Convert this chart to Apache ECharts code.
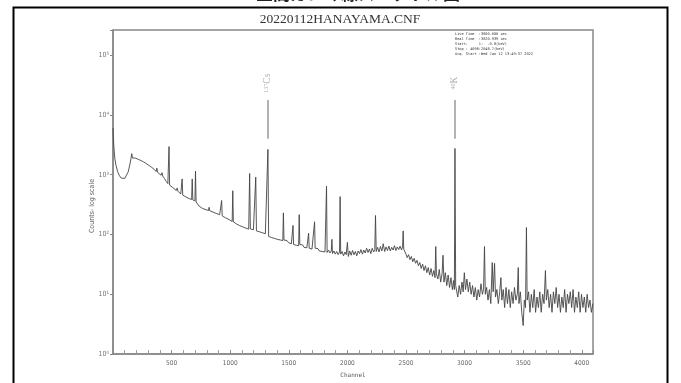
<!DOCTYPE html>
<html>
<head>
<meta charset="utf-8">
<script src="https://cdn.jsdelivr.net/npm/echarts@6/dist/echarts.min.js"></script>
<style>
html, body { margin: 0; padding: 0; background: #fff; }
#spectrum { width: 681px; height: 383px; }
</style>
</head>
<body>
<div id="spectrum"></div>
<script>
// gamma spectrum, [channel, counts]
var spectrum = [
  [0, 6000], [3, 4200], [8, 2800], [15, 1900], [25, 1450], [40, 1120], [55, 960], [70, 880], [85, 850],
  [100, 865], [115, 930], [130, 1120], [145, 1520], [153, 1850], [160, 2250], [166, 1900], [175, 1960],
  [190, 1900], [205, 1860], [220, 1790], [240, 1720], [260, 1640], [280, 1550], [300, 1460], [320, 1370],
  [340, 1290], [355, 1200], [368, 1130], [374, 1290], [380, 1100], [395, 1040], [410, 980], [418, 1080],
  [424, 950], [440, 860], [455, 770], [468, 710], [474, 690], [478, 2950], [483, 670], [495, 640],
  [510, 610], [525, 575], [540, 545], [548, 600], [554, 530], [565, 500], [578, 475], [585, 465],
  [590, 850], [595, 455], [608, 435], [622, 425], [636, 412], [650, 398], [664, 390], [671, 385],
  [676, 850], [681, 380], [692, 372], [699, 365], [704, 1150], [709, 350], [720, 325], [735, 298],
  [750, 280], [765, 272], [780, 265], [795, 260], [808, 255], [815, 252], [820, 285], [825, 250],
  [840, 242], [855, 236], [866, 232], [872, 240], [880, 226], [895, 220], [910, 214], [922, 208],
  [927, 370], [932, 205], [945, 198], [960, 190], [975, 184], [990, 178], [1005, 170], [1017, 165],
  [1022, 540], [1027, 163], [1040, 158], [1055, 150], [1068, 152], [1080, 141], [1095, 143], [1108, 134],
  [1120, 136], [1133, 128], [1146, 130], [1158, 123], [1166, 1050], [1172, 124], [1185, 118], [1198, 120],
  [1210, 113], [1218, 910], [1224, 115], [1238, 109], [1250, 111], [1262, 104], [1275, 107], [1288, 100],
  [1300, 103], [1312, 96], [1317, 99], [1322, 2650], [1328, 93], [1340, 96], [1352, 89], [1365, 92],
  [1378, 86], [1390, 89], [1402, 83], [1415, 87], [1428, 81], [1440, 84], [1449, 79], [1454, 230],
  [1459, 81], [1472, 76], [1485, 79], [1498, 73], [1510, 76], [1522, 70], [1531, 74], [1536, 142],
  [1541, 68], [1553, 73], [1565, 66], [1577, 70], [1584, 65], [1589, 215], [1594, 68], [1606, 63],
  [1618, 67], [1630, 61], [1642, 65], [1654, 60], [1664, 63], [1669, 105], [1674, 59], [1686, 63],
  [1698, 57], [1709, 61], [1715, 56], [1720, 163], [1725, 59], [1737, 55], [1749, 58], [1761, 53],
  [1773, 57], [1785, 52], [1797, 56], [1809, 51], [1817, 55], [1822, 640], [1827, 50], [1839, 55],
  [1851, 49], [1863, 53], [1868, 83], [1873, 48], [1885, 53], [1897, 47], [1909, 52], [1921, 46],
  [1933, 51], [1938, 430], [1943, 47], [1955, 52], [1967, 44], [1979, 51], [1990, 46], [2000, 74],
  [2008, 43], [2020, 53], [2032, 45], [2044, 54], [2056, 46], [2068, 52], [2080, 44], [2092, 53],
  [2104, 48], [2116, 56], [2128, 47], [2140, 55], [2152, 49], [2164, 59], [2176, 50], [2188, 57],
  [2200, 48], [2212, 59], [2224, 51], [2234, 56], [2240, 208], [2246, 52], [2258, 61], [2270, 51],
  [2282, 63], [2294, 53], [2306, 70], [2318, 52], [2330, 62], [2342, 54], [2354, 64], [2366, 53],
  [2378, 61], [2390, 55], [2402, 65], [2414, 54], [2426, 62], [2438, 56], [2450, 64], [2462, 55],
  [2471, 62], [2476, 115], [2481, 57], [2490, 58], [2500, 47], [2510, 41], [2522, 46], [2534, 38],
  [2546, 43], [2558, 35], [2570, 40], [2582, 33], [2594, 37], [2606, 30], [2618, 34], [2630, 27],
  [2642, 32], [2654, 25], [2666, 30], [2678, 23], [2690, 28], [2702, 21], [2714, 27], [2726, 20],
  [2738, 25], [2748, 19], [2754, 63], [2760, 22], [2772, 18], [2784, 26], [2796, 16], [2808, 22],
  [2816, 45], [2824, 16], [2836, 23], [2848, 14], [2860, 21], [2872, 13], [2884, 19], [2896, 12],
  [2906, 17], [2913, 12], [2918, 2750], [2924, 14], [2930, 15], [2942, 9], [2954, 14], [2966, 10],
  [2978, 16], [2988, 11], [2998, 23], [3008, 12], [3020, 18], [3032, 11], [3044, 16], [3056, 10],
  [3068, 14], [3080, 9], [3092, 13], [3104, 8], [3116, 12], [3128, 9], [3140, 15], [3152, 10],
  [3162, 12], [3170, 63], [3177, 10], [3188, 13], [3200, 8], [3212, 12], [3224, 7], [3236, 34],
  [3244, 11], [3256, 33], [3264, 9], [3276, 12], [3288, 7], [3300, 11], [3310, 19], [3318, 8],
  [3330, 12], [3342, 6], [3354, 13], [3366, 7], [3378, 12], [3390, 6], [3402, 11], [3414, 7],
  [3426, 13], [3438, 8], [3450, 10], [3458, 28], [3464, 7], [3476, 11], [3488, 5], [3500, 3],
  [3510, 8], [3520, 6], [3528, 131], [3534, 8], [3546, 11], [3558, 5], [3570, 10], [3582, 6],
  [3594, 12], [3606, 5], [3618, 9], [3630, 6], [3642, 11], [3654, 5], [3666, 10], [3678, 7],
  [3690, 25], [3698, 8], [3710, 12], [3722, 6], [3734, 10], [3746, 5], [3758, 11], [3770, 7],
  [3782, 13], [3794, 6], [3806, 10], [3818, 5], [3830, 9], [3842, 6], [3854, 12], [3866, 5],
  [3878, 10], [3890, 7], [3902, 11], [3914, 6], [3926, 12], [3938, 5], [3950, 9], [3962, 6],
  [3974, 11], [3986, 5], [3998, 10], [4010, 6], [4022, 9], [4034, 5], [4046, 10], [4058, 6],
  [4070, 8], [4082, 5], [4095, 7]
];

// nuclide markers: mass number, symbol, channel
var markers = [
  ['137', 'Cs', 1322],
  ['40', 'K', 2918]
];

var infoLines = [
  'Live Time  :3600.000 sec',
  'Real Time  :3620.939 sec',
  'Start:     1:  -0.8(keV)',
  'Stop : 4096:2048.7(keV)',
  'Acq. Start :Wed Jan 12 13:49:37 2022'
];

var supDigits = '⁰¹²³⁴⁵⁶⁷⁸⁹';

var chartDom = document.getElementById('spectrum');
var myChart = echarts.init(chartDom);
var option;

option = {
  backgroundColor: '#fff',
  animation: false,
  graphic: [
    {
      type: 'rect',
      shape: { x: 13.5, y: 7.5, width: 654, height: 420 },
      style: { fill: 'none', stroke: '#000', lineWidth: 2 }
    },
    {
      // page heading, mostly cut off by the top edge
      type: 'text',
      x: 358, y: -15,
      style: {
        text: '空間ガンマ線スペクトル図',
        fontSize: 17, fontWeight: 'bold',
        fontFamily: 'Noto Sans CJK JP',
        fill: '#222', align: 'center', verticalAlign: 'top'
      }
    },
    {
      type: 'text',
      x: 340, y: 19,
      style: {
        text: '20220112HANAYAMA.CNF',
        fontSize: 13.5, fontFamily: 'Liberation Serif',
        fill: '#333', align: 'center', verticalAlign: 'middle'
      }
    },
    {
      type: 'text',
      x: 455, y: 32,
      style: {
        text: infoLines.join('\n'),
        fontSize: 3.6, lineHeight: 5,
        fontFamily: 'DejaVu Sans Mono',
        fill: '#333', align: 'left', verticalAlign: 'top'
      }
    },
    {
      type: 'text',
      x: 92, y: 206,
      rotation: Math.PI / 2,
      style: {
        text: 'Counts- log scale',
        fontSize: 7, fontFamily: 'DejaVu Sans Condensed',
        fill: '#666', align: 'center', verticalAlign: 'middle'
      }
    }
  ],
  grid: {
    left: 113,
    right: 88,
    top: 30,
    bottom: 25,
    show: true,
    borderColor: '#888',
    borderWidth: 1.5
  },
  xAxis: {
    type: 'value',
    min: 0,
    max: 4096,
    interval: 500,
    name: 'Channel',
    nameLocation: 'middle',
    nameGap: 16,
    nameTextStyle: { fontSize: 6, fontFamily: 'DejaVu Sans Mono', color: '#555' },
    axisLine: { lineStyle: { color: '#888', width: 1.5 } },
    axisTick: { inside: true, length: 4, lineStyle: { color: '#888' } },
    minorTick: { show: true, splitNumber: 5, length: 4, lineStyle: { color: '#999' } },
    axisLabel: {
      margin: 6,
      fontSize: 6.5,
      fontFamily: 'DejaVu Sans Condensed',
      color: '#666',
      formatter: function (v) {
        return (v > 0 && v % 500 === 0) ? String(v) : '';
      }
    },
    splitLine: { show: false }
  },
  yAxis: {
    type: 'log',
    logBase: 10,
    min: 1,
    max: 263000,
    axisLine: { show: true, lineStyle: { color: '#888', width: 1.5 } },
    axisTick: { show: true, inside: false, length: 3, lineStyle: { color: '#888' } },
    axisLabel: {
      margin: 4,
      fontSize: 7,
      fontFamily: 'DejaVu Sans Condensed',
      color: '#777',
      formatter: function (v) {
        var e = Math.log10(v);
        var r = Math.round(e);
        if (Math.abs(e - r) > 1e-6) return '';
        return '10' + supDigits[r];
      }
    },
    splitLine: { show: false }
  },
  series: [
    {
      name: 'Counts',
      type: 'line',
      data: spectrum,
      symbol: 'none',
      lineStyle: { color: '#444', width: 0.9 },
      markLine: {
        silent: true,
        symbol: 'none',
        label: { show: false },
        lineStyle: { color: '#999', width: 1.5, type: 'solid' },
        data: markers.map(function (m) {
          return [{ coord: [m[2], 17800] }, { coord: [m[2], 4000] }];
        })
      }
    },
    {
      name: 'Nuclides',
      type: 'scatter',
      symbolSize: 0,
      data: markers.map(function (m) {
        return [m[2], 34000, m[0], m[1]];
      }),
      label: {
        show: true,
        position: 'inside',
        rotate: 90,
        formatter: function (p) {
          return '{s|' + p.value[2] + '}{n|' + p.value[3] + '}';
        },
        rich: {
          s: { fontSize: 6, fontFamily: 'Liberation Serif', color: '#999', padding: [0, 0, 4, 0] },
          n: { fontSize: 9.5, fontFamily: 'Liberation Serif', color: '#999' }
        }
      }
    }
  ]
};

option && myChart.setOption(option);

window.addEventListener('resize', function () {
  myChart.resize();
});
</script>
</body>
</html>
